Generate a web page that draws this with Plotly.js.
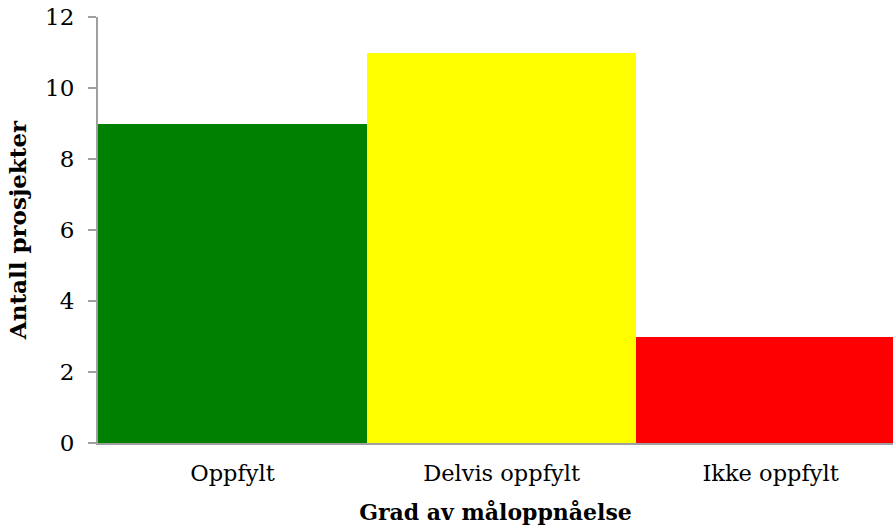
<!DOCTYPE html>
<html>
<head>
<meta charset="utf-8">
<script src="https://cdn.plot.ly/plotly-3.0.1.min.js"></script>
<style>html,body{margin:0;padding:0;background:#fff;}#chart{width:893px;height:532px;}</style>
</head>
<body>
<div id="chart"></div>
<script>
const categories = ["Oppfylt", "Delvis oppfylt", "Ikke oppfylt"];
const values = [9, 11, 3];
const barColors = ["#008000", "#ffff00", "#ff0000"];
const yTicks = [0, 2, 4, 6, 8, 10, 12];
const xTitle = "Grad av måloppnåelse";
const yTitle = "Antall prosjekter";

const font = "DejaVu Serif, Liberation Serif, serif";

Plotly.newPlot("chart", [{
  type: "bar",
  x: categories,
  y: values,
  marker: {color: barColors, line: {width: 0}},
  width: 1,
  hoverinfo: "none"
}], {
  width: 893, height: 532,
  margin: {l: 98, r: 0, t: 17, b: 89},
  paper_bgcolor: "#fff", plot_bgcolor: "#fff",
  bargap: 0,
  showlegend: false,
  font: {family: font, color: "#000", size: 22},
  xaxis: {
    range: [-0.5, 2.455],
    showline: true, linecolor: "#a0a0a0", linewidth: 2,
    ticks: "", showgrid: false, zeroline: false,
    tickfont: {family: font, size: 22.5},
    ticklabelstandoff: 9,
    title: {text: "<b>" + xTitle + "</b>", font: {family: font, size: 22}, standoff: 20}
  },
  yaxis: {
    range: [0, 12],
    tickvals: yTicks,
    showline: true, linecolor: "#a0a0a0", linewidth: 2,
    ticks: "outside", ticklen: 8, tickcolor: "#a0a0a0", tickwidth: 2,
    showgrid: false, zeroline: false,
    tickfont: {family: font, size: 23},
    ticklabelstandoff: 9,
    title: {text: "<b>" + yTitle + "</b>", font: {family: font, size: 23}, standoff: 12}
  }
}, {staticPlot: true});
</script>
</body>
</html>
